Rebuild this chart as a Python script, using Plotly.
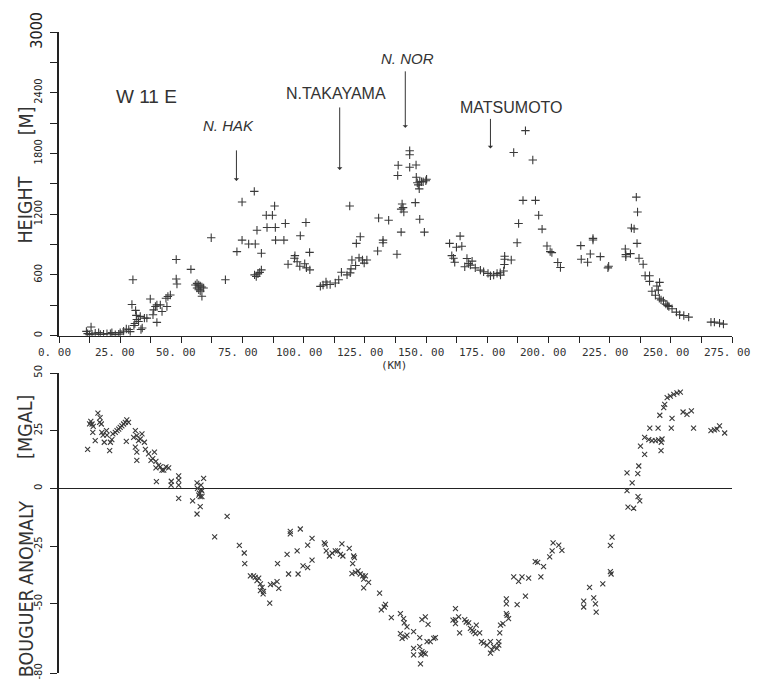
import plotly.graph_objects as go

# ---- Top panel: topography (km, height m) ----
top_km = [11.2, 11.7, 12.5, 13.1, 13.5, 14.8, 16.2, 16.9, 18.2, 19.6, 21.0, 21.6, 23.0, 24.4, 25.0, 26.4, 27.5, 28.5, 29.1,
          30.2, 29.8, 31.3, 31.6, 31.8, 30.6, 31.0, 32.5, 33.5, 34.0, 33.2, 34.9, 35.9, 37.3,
          38.4, 38.7, 39.4, 40.0, 40.0, 41.4, 42.1, 43.7, 44.5, 44.1, 45.5, 47.9, 47.9, 48.2, 53.9,
          55.7, 56.4, 57.1, 57.7, 58.4, 57.1, 57.7, 58.4, 59.1, 56.4,
          62.2, 68.0, 72.7, 74.8, 74.8, 77.5, 80.2, 79.8, 80.9, 82.7, 79.9, 80.6, 81.3, 82.0, 82.7,
          84.7, 87.2, 88.1, 85.0, 88.4, 88.5, 91.9, 92.5, 93.6, 96.4, 96.2, 97.3, 98.4, 98.6,
          100.4, 101.1, 102.5, 100.9, 102.4,
          106.8, 107.9, 109.5, 110.8, 112.9, 114.3, 109.1, 115.4, 117.7, 119.0, 119.3, 118.8, 119.7,
          121.5, 123.1, 121.2, 122.6, 124.0, 124.7, 125.8,
          130.6, 130.2, 132.4, 132.4, 134.7, 138.1, 138.4, 138.6, 139.8, 139.8, 140.2, 140.9, 140.6,
          143.3, 143.3, 143.3, 145.9, 145.6, 146.0, 146.4, 146.8, 147.2, 147.4, 148.1, 148.8, 149.9, 150.2,
          147.4, 149.3,
          159.6, 160.5, 161.2, 162.4, 163.9, 164.6, 161.7, 165.8, 166.7, 167.4, 168.1, 168.8,
          170.1, 172.2, 173.5, 175.3, 176.3, 177.6, 179.0, 180.3, 181.7,
          180.4, 182.0, 182.1, 182.1,
          184.8, 185.8, 187.2, 187.8, 189.6, 190.6, 193.6, 194.7, 196.0, 197.4, 199.4, 200.7, 201.4,
          203.8, 204.9, 213.2, 213.4, 216.0, 217.1, 218.2, 218.2, 221.2, 224.3, 224.6,
          231.4, 231.6, 231.6, 233.5, 233.9, 235.0, 235.9, 236.4, 236.2, 237.0, 238.7, 239.5, 241.3,
          241.3, 242.3, 243.7, 244.3, 244.9, 245.4, 245.3, 246.0, 247.0, 248.0, 248.7, 249.2, 250.5,
          252.3, 253.6, 255.3, 257.3, 266.4, 267.8, 269.9, 271.5]
top_h = [42, 20, 10, 85, 15, 25, 30, 12, 15, 20, 18, 30, 10, 15, 30, 45, 65, 60, 40,
         552, 307, 250, 200, 160, 100, 120, 140, 60, 75, 190, 173, 173, 362,
         206, 255, 288, 131, 304, 304, 239, 370, 386, 288, 402, 752, 560, 510, 655,
         500, 516, 500, 490, 480, 454, 440, 389, 470, 470,
         967, 552, 830, 944, 1320, 905, 905, 1425, 1042, 814, 600, 585, 610, 625, 650,
         1189, 1189, 1281, 1069, 1069, 944, 944, 1108, 706, 791, 765, 730, 686, 987,
         710, 670, 650, 1118, 823,
         487, 500, 505, 505, 520, 552, 530, 627, 600, 620, 660, 1281, 748,
         912, 977, 693, 768, 748, 716, 748,
         1163, 836, 944, 918, 1140, 804, 1582, 1683, 1023, 1250, 1300, 1222, 1265,
         1827, 1787, 1663, 1686, 1314, 1565, 1510, 1490, 1450, 1520, 1520, 1520, 1530, 1545,
         1150, 1023,
         912, 791, 765, 873, 983, 883, 725, 680, 762, 713, 697, 736,
         670, 647, 631, 615, 592, 598, 615, 621, 638,
         598, 703, 785, 755,
         748, 1810, 918, 1108, 1336, 2026, 1735, 1336, 1189, 1052, 885, 830, 820,
         722, 673, 889, 755, 725, 807, 961, 945, 781, 670, 686,
         856, 800, 780, 810, 1063, 1055, 1369, 1222, 912, 765, 706, 591, 591,
         536, 438, 399, 490, 450, 526, 369, 353, 343, 311, 297, 288, 265,
         232, 206, 199, 183, 134, 134, 124, 114]

# ---- Bottom panel: Bouguer anomaly (km, mgal) ----
bot_km = [11.7, 12.5, 13.0, 13.5, 14.0, 13.8, 14.8, 15.9, 16.8, 17.3, 16.6, 17.5, 18.0, 18.5, 19.4, 19.6,
          20.7, 21.0, 21.6, 22.0, 23.0, 23.7, 24.4, 25.0, 25.7, 26.4, 27.1, 27.7, 28.4, 27.5,
          31.2, 31.8, 30.5, 31.2, 31.8, 31.8, 32.5, 33.2, 33.9, 34.9, 35.3, 36.6, 37.6, 38.3, 39.0,
          39.6, 39.6, 39.8, 40.7, 41.4, 42.1, 42.8, 43.7, 44.8, 45.9, 45.8, 48.9, 48.9, 48.9, 48.9,
          54.6, 56.4, 56.4, 56.6, 57.4, 57.7, 57.1, 58.4, 58.0, 59.1, 58.1, 58.4, 57.7,
          63.6, 68.7, 73.7, 75.7, 75.9, 78.2, 79.5, 80.2, 80.9, 81.6, 82.3, 83.0, 83.6, 83.4, 82.3,
          86.1, 86.4, 87.7, 89.3, 89.1, 89.8, 93.2, 93.8, 94.5, 94.5, 97.3, 97.7, 98.6, 99.7,
          101.6, 101.6, 103.4, 103.4, 108.4, 108.8, 109.2, 110.5, 111.6, 112.9, 113.9, 115.0, 116.0,
          115.6, 118.6, 120.4, 120.7, 120.0, 119.7, 121.1, 122.2, 123.1, 124.1, 124.5, 125.2, 126.5,
          124.5, 131.0, 131.7, 132.9, 133.4, 135.8, 139.5, 140.8, 141.1, 142.2, 139.5, 140.2, 141.5,
          142.2, 144.9, 147.4, 144.9, 144.9, 147.4, 148.3, 147.9, 149.0, 149.7, 147.7, 148.3, 149.7,
          150.8, 150.4, 151.7, 153.1, 153.8,
          162.0, 161.0, 162.0, 163.3, 162.0, 163.7, 165.8, 166.4, 167.4, 168.1, 168.8, 169.4, 170.5,
          170.1, 171.9, 172.6, 173.5, 174.9, 176.3, 176.3, 176.9, 177.6, 179.0, 179.7, 179.7, 180.1,
          180.4, 181.4, 182.8, 183.1, 183.7, 182.8, 182.8,
          185.8, 187.8, 189.2, 191.9, 187.2, 190.6, 194.6, 195.6, 198.0, 196.9, 200.5, 201.5, 201.9,
          204.2, 205.5, 214.4, 214.4, 216.8, 218.5, 219.2, 219.5, 222.2, 225.3, 225.6, 225.3, 226.0,
          232.1, 232.1, 232.5, 234.8, 234.2, 236.5, 236.9, 236.6, 237.3, 237.6, 239.3, 239.3, 241.0,
          242.3, 243.7, 245.0, 246.1, 241.4, 244.8, 246.0, 245.5, 246.4, 247.1, 247.5, 248.5, 249.8,
          251.2, 252.5, 253.9, 250.2, 250.5, 255.0, 256.6, 258.4, 259.3, 266.4, 267.8, 268.9, 269.9,
          272.0]
bot_mgal = [16.9, 28.0, 29.0, 27.9, 26.9, 24.3, 20.7, 32.6, 30.7, 27.9, 28.6, 24.3, 23.1, 20.0, 25.0, 23.1,
            16.4, 20.0, 21.1, 23.6, 24.3, 25.0, 25.7, 26.4, 27.1, 27.9, 28.6, 29.7, 28.6, 20.4,
            25.0, 22.9, 22.1, 17.9, 15.7, 12.1, 20.7, 21.4, 23.6, 20.0, 16.9, 15.0, 12.1, 12.9, 15.7,
            8.9, 11.7, 2.9, 10.0, 9.3, 7.9, 7.9, 9.3, 8.9, 3.1, 1.4, 5.4, 3.6, 1.4, -4.3,
            -5.4, -11.1, 2.4, 0.0, -2.1, -3.6, -2.9, -1.1, 1.4, 4.3, -0.7, -3.6, -7.9,
            -21.0, -12.1, -24.7, -28.0, -32.6, -37.9, -37.9, -38.6, -40.0, -38.9, -41.4, -42.9, -44.6, -45.7, -44.3,
            -49.7, -41.7, -41.4, -32.6, -40.4, -43.3, -28.6, -37.1, -18.6, -19.7, -27.1, -37.1, -17.6, -33.6,
            -34.3, -24.6, -31.1, -21.7, -23.6, -24.3, -27.1, -29.3, -28.1, -27.1, -27.1, -28.6, -29.3,
            -24.0, -26.0, -29.3, -30.0, -32.6, -36.9, -36.4, -35.7, -37.1, -37.9, -39.3, -37.9, -40.7,
            -43.1, -45.4, -52.6, -51.4, -50.3, -56.0, -54.3, -56.4, -58.3, -60.0, -62.9, -65.0, -64.3,
            -63.6, -62.1, -64.7, -69.3, -72.1, -68.6, -70.7, -72.1, -71.4, -71.7, -76.0, -56.9, -55.7,
            -58.9, -66.4, -66.4, -65.0, -64.7,
            -52.1, -57.1, -56.9, -55.7, -58.6, -62.6, -56.9, -57.9, -58.3, -60.7, -61.4, -62.1, -59.3,
            -62.9, -62.6, -66.4, -67.1, -67.9, -66.4, -71.4, -70.0, -68.6, -69.3, -66.4, -67.9, -62.6,
            -59.3, -58.6, -54.3, -55.0, -56.4, -47.9, -50.0,
            -38.3, -40.3, -38.3, -38.9, -50.4, -46.7, -31.7, -32.1, -33.9, -38.3, -29.7, -27.1, -23.6,
            -24.6, -26.9, -48.9, -51.4, -42.9, -47.4, -50.0, -53.6, -41.4, -36.1, -37.1, -24.7, -21.1,
            6.7, -1.0, -8.1, -8.6, 2.4, 6.4, 9.7, -3.6, -5.4, 18.3, 14.7, 22.1, 21.1,
            20.7, 20.7, 21.0, 20.0, 26.1, 26.1, 16.4, 31.7, 21.4, 35.0, 36.4, 39.3, 40.0,
            40.7, 41.4, 41.7, 26.1, 30.3, 33.1, 32.1, 33.6, 26.1, 25.0, 25.4, 25.7, 27.1,
            24.0]

# ---- axes ticks ----
x_tickvals = [i * 12.5 for i in range(23)]
x_labelvals = [0, 25, 50, 75, 100, 125, 150, 175, 200, 225, 250, 275]
x_labeltext = ["%d. 00" % v for v in x_labelvals]
h_tickvals = list(range(0, 3001, 300))
h_ticktext = [("<span style='font-size:16px'>%d</span>" % v if v == 3000 else str(v)) if v % 600 == 0 else ""
              for v in h_tickvals]
g_tickvals = [50, 25, 0, -25, -50, -80]
g_ticktext = ["50", "25", "0", "-25", "-50", "-80"]

# ---- annotation labels and arrow targets ----
labels = ["N. HAK", "N.TAKAYAMA", "N. NOR", "MATSUMOTO"]
label_km = [69.4, 113.3, 142.5, 184.8]
label_h = [2080, 2389, 2742, 2252]
label_italic = [True, False, True, False]
arrow_km = [72.5, 114.7, 141.5, 176.3]
arrow_h = [1529, 1637, 2053, 1850]
arrow_len = [32, 64, 58, 31]

ink = "#3a3a3a"
fig = go.Figure()
fig.add_trace(go.Scatter(x=top_km, y=top_h, mode="markers", xaxis="x", yaxis="y",
                         marker=dict(symbol="cross-thin", size=6, line=dict(width=1.1, color=ink)),
                         showlegend=False))
fig.add_trace(go.Scatter(x=bot_km, y=bot_mgal, mode="markers", xaxis="x2", yaxis="y2",
                         marker=dict(symbol="x-thin", size=5, line=dict(width=1.1, color=ink)),
                         showlegend=False))

cond = "DejaVu Sans Condensed, Liberation Sans Narrow, Liberation Sans"
yfont = dict(family=cond, size=11, color="#222")
fig.update_layout(
    width=757, height=691,
    margin=dict(l=59, r=25, t=27, b=18),
    paper_bgcolor="white", plot_bgcolor="white",
    xaxis=dict(domain=[0, 1], range=[0, 275], anchor="y", showgrid=False, zeroline=False,
               showline=True, linecolor="#222", linewidth=1.2, ticks="outside", ticklen=6,
               tickcolor="#222", tickvals=x_tickvals, showticklabels=False),
    yaxis=dict(domain=[0.5263, 1], range=[0, 3000], anchor="x", showgrid=False, zeroline=False,
               showline=True, linecolor="#222", linewidth=1.5, ticks="outside", ticklen=7,
               tickcolor="#222", tickvals=h_tickvals, ticktext=h_ticktext, tickangle=-90,
               tickfont=yfont, ticklabelstandoff=4),
    xaxis2=dict(domain=[0, 1], range=[0, 275], anchor="y2", visible=False),
    yaxis2=dict(domain=[0, 0.468], range=[-80, 50], anchor="x2", showgrid=False,
                zeroline=True, zerolinecolor="#222", zerolinewidth=1.2,
                showline=True, linecolor="#222", linewidth=1.5, ticks="outside", ticklen=7,
                tickcolor="#222", tickvals=g_tickvals, ticktext=g_ticktext, tickangle=-90,
                tickfont=yfont, ticklabelstandoff=4),
)

def py2paper(py):
    return (673 - py) / 646.0

def px2paper(px):
    return (px - 59) / 673.0

tfont = dict(family=cond, size=19.5, color="#333")
ann = []
# y-axis titles, word by word (as spaced in the original)
for word, cy in [("HEIGHT", 207), ("[M]", 117)]:
    ann.append(dict(text=word, xref="paper", yref="paper", x=px2paper(26), y=py2paper(cy),
                    textangle=-90, showarrow=False, font=tfont, xanchor="center", yanchor="middle"))
for word, cy in [("BOUGUER", 633), ("ANOMALY", 542), ("[MGAL]", 425)]:
    ann.append(dict(text=word, xref="paper", yref="paper", x=px2paper(26), y=py2paper(cy),
                    textangle=-90, showarrow=False, font=tfont, xanchor="center", yanchor="middle"))
# x tick labels
for v, t in zip(x_labelvals, x_labeltext):
    ann.append(dict(text=t, xref="x", yref="paper", x=v, y=py2paper(349.5), xshift=-5,
                    showarrow=False, xanchor="center", yanchor="middle",
                    font=dict(family="DejaVu Sans Mono", size=11, color="#333")))
ann.append(dict(text="(KM)", xref="paper", yref="paper", x=px2paper(394), y=py2paper(363),
                showarrow=False, xanchor="center", yanchor="middle",
                font=dict(family="DejaVu Sans Mono", size=11, color="#333")))
ann.append(dict(text="W 11 E", xref="x", yref="y", x=35.7, y=2360, showarrow=False,
                font=dict(family="Liberation Sans", size=19, color="#333")))
for t, kx, hy, it in zip(labels, label_km, label_h, label_italic):
    ann.append(dict(text=("<i>%s</i>" % t) if it else t, xref="x", yref="y", x=kx, y=hy,
                    showarrow=False, font=dict(family="Liberation Sans", size=16 if not it else 15,
                                               color="#333")))
for kx, hy, ln in zip(arrow_km, arrow_h, arrow_len):
    ann.append(dict(text="", xref="x", yref="y", x=kx, y=hy, ax=0, ay=-ln,
                    showarrow=True, arrowhead=1, arrowsize=0.9, arrowwidth=1, arrowcolor="#333"))
fig.update_layout(annotations=ann)

fig.write_html("out.html", config={"displayModeBar": False},
               post_script="document.body.style.margin='0px';")
